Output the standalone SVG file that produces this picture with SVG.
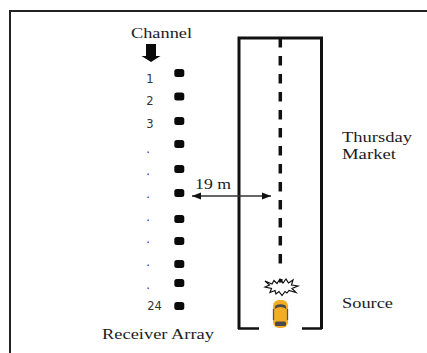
<svg xmlns="http://www.w3.org/2000/svg" width="427" height="353" viewBox="0 0 427 353">
<style>
text{font-family:"Liberation Serif",serif;fill:#1c1c24}
.l{font-size:15px}
.n{font-family:"DejaVu Sans",sans-serif;font-size:11.5px;text-anchor:middle;fill:#333}
.d{fill:#0a0a0a}
.w{fill:none;stroke:#111;stroke-width:3}
</style>
<defs>
<rect id="dot" x="-5" y="-4" width="10" height="8" rx="2.500" class="d"/>
<marker id="ah" markerUnits="userSpaceOnUse" markerWidth="10" markerHeight="8" refX="9" refY="4" orient="auto-start-reverse"><path d="M0 0.500L9 4L0 7.500Z" fill="#111"/></marker>
</defs>
<rect width="427" height="353" fill="#fff"/>
<g id="frame"><path d="M427 11H10V353" fill="none" stroke="#222" stroke-width="2"/></g>
<g id="road"><path d="M239 329V38H321.500V329" class="w"/><path d="M238 328.500H259M302 328.500H322" fill="none" stroke="#111" stroke-width="2.500"/><path d="M280.300 38V271" fill="none" stroke="#111" stroke-width="3.500" stroke-dasharray="9.400 8.600"/></g>
<g id="channel"><text class="l" x="131" y="38" textLength="61" lengthAdjust="spacingAndGlyphs">Channel</text><path d="M146 44H156V56H160.500L151 62L141.500 56H146Z" fill="#0a0a0a"/></g>
<g id="receivers">
<use href="#dot" x="179.300" y="73"/><use href="#dot" x="179.300" y="96.500"/><use href="#dot" x="179.300" y="121"/><use href="#dot" x="179.300" y="144"/><use href="#dot" x="179.300" y="169"/><use href="#dot" x="179.300" y="193"/><use href="#dot" x="179.300" y="219"/><use href="#dot" x="179.300" y="241"/><use href="#dot" x="179.300" y="264"/><use href="#dot" x="179.300" y="283"/><use href="#dot" x="179.300" y="306"/>
<text class="n" x="150" y="83">1</text><text class="n" x="150" y="105">2</text><text class="n" x="150" y="128">3</text>
<text class="n" x="148" y="153">.</text><text class="n" x="148" y="175">.</text><text class="n" x="148" y="198">.</text><text class="n" x="148" y="221">.</text><text class="n" x="148" y="243">.</text><text class="n" x="148" y="266">.</text><text class="n" x="148" y="289">.</text>
<text class="n" x="154.500" y="310">24</text>
<text class="l" x="102" y="339" textLength="112" lengthAdjust="spacingAndGlyphs">Receiver Array</text>
</g>
<g id="connectors"><path d="M192 196H271" stroke="#333" stroke-width="1.300" fill="none" marker-start="url(#ah)" marker-end="url(#ah)"/></g>
<text class="l" x="195" y="189" textLength="36" lengthAdjust="spacingAndGlyphs">19 m</text>
<g id="labels"><text class="l" x="342" y="141.500" textLength="70" lengthAdjust="spacingAndGlyphs">Thursday</text><text class="l" x="342" y="159" textLength="54" lengthAdjust="spacingAndGlyphs">Market</text><text class="l" x="342" y="308" textLength="51" lengthAdjust="spacingAndGlyphs">Source</text></g>
<g id="source">
<path d="M265 281L272 284L274 280.500L277 283.500L280 279L283 283L286 279L288.500 283L293 280L291.500 285L298 286L292 288.500L296 292.500L289 290.500L287 293L285 291.500L282 295.500L279 291.500L276 294L275 290.500L270 292.500L271.500 288.500L265 287L269.500 285Z" fill="#fff" stroke="#111" stroke-width="1.200"/>
<rect x="279" y="279" width="3.500" height="3.500" fill="#111"/>
</g>
<g id="car">
<rect x="270" y="297" width="21" height="31" fill="#fdfdfd"/>
<rect x="273" y="300" width="15" height="28" rx="6" fill="#f2ae20"/>
<path d="M274.500 309Q280.500 305 286.500 309L285.500 305.500Q280.500 303 275.500 305.500Z" fill="#4a4a4a"/>
<rect x="275" y="321.500" width="11" height="4.500" rx="1.500" fill="#4a4a4a"/>
<path d="M273.500 309V320M287.500 309V320" stroke="#555" stroke-width="1.300"/>
</g>
</svg>
